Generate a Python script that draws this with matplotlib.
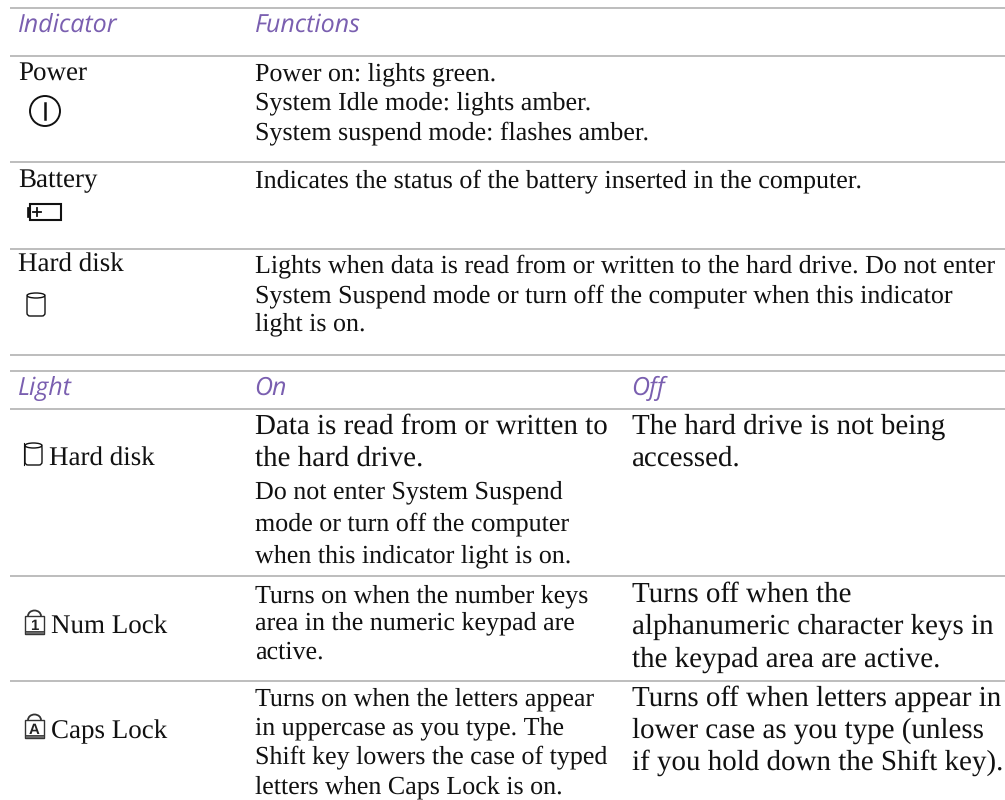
#!/usr/bin/env python3
"""Indicator light tables, laid out in pixel coordinates."""

import matplotlib
matplotlib.use("Agg")
import matplotlib.pyplot as plt
from matplotlib.patches import Arc, Circle, Rectangle, FancyBboxPatch, Ellipse

plt.rcParams["text.hinting"] = "no_hinting"
plt.rcParams["text.hinting_factor"] = 1

HEAD_COLOR = "#7a5fb0"
RULE_COLOR = "#b2b2b2"
SERIF = "Liberation Serif"
HEAD_FONT = "Open Sans"

HEADERS_TOP = ["Indicator", "Functions"]
HEADERS_BOTTOM = ["Light", "On", "Off"]

INDICATORS = ["Power", "Battery", "Hard disk"]
FUNCTIONS = [
    "Power on: lights green.",
    "System Idle mode: lights amber.",
    "System suspend mode: flashes amber.",
    "Indicates the status of the battery inserted in the computer.",
    "Lights when data is read from or written to the hard drive. Do not enter",
    "System Suspend mode or turn off the computer when this indicator",
    "light is on.",
]
LIGHTS = ["Hard disk", "Num Lock", "Caps Lock"]
ON_BIG = ["Data is read from or written to", "the hard drive."]
ON_SMALL = [
    "Do not enter System Suspend",
    "mode or turn off the computer",
    "when this indicator light is on.",
    "Turns on when the number keys",
    "area in the numeric keypad are",
    "active.",
    "Turns on when the letters appear",
    "in uppercase as you type. The",
    "Shift key lowers the case of typed",
    "letters when Caps Lock is on.",
]
OFF = [
    "The hard drive is not being",
    "accessed.",
    "Turns off when the",
    "alphanumeric character keys in",
    "the keypad area are active.",
    "Turns off when letters appear in",
    "lower case as you type (unless",
    "if you hold down the Shift key).",
]
LOCK_GLYPHS = ["1", "A"]

RULES_Y = [7.7, 55.7, 161.7, 248.7, 355, 371, 408.7, 576, 680.7]
INDICATORS_Y = [80, 187, 272]
FUNCTIONS_Y = [80, 109, 139, 187, 272, 302, 330]
LIGHTS_X = [49, 51, 51]
LIGHTS_Y = [466, 634, 738]
ON_BIG_Y = [434, 466]
ON_SMALL_Y = [498, 530, 562, 602, 629, 659, 705, 734, 763, 793]
OFF_Y = [434, 466, 602, 634, 667, 706, 738, 770]

TEXT_SIZE = 19.05
BIG_SIZE = 20.8

fig = plt.figure(figsize=(10.05, 8.0), dpi=100)
ax = fig.add_axes([0, 0, 1, 1])
ax.set_xlim(0, 1005)
ax.set_ylim(800, 0)
ax.axis("off")


def put(x, y, s, size=TEXT_SIZE, **kw):
    kw.setdefault("family", SERIF)
    kw.setdefault("color", "#111111")
    ax.text(x, y, s, fontsize=size, va="baseline", ha="left", **kw)


def head(x, y, s):
    put(x, y, s, size=18, family=HEAD_FONT, style="italic", color=HEAD_COLOR)


def cylinder(x0, y0, w, h):
    ax.add_patch(FancyBboxPatch((x0, y0 + 2), w, h - 2, boxstyle="round,pad=0,rounding_size=3",
                                fc="white", ec="#111111", lw=1.0))
    ax.add_patch(Ellipse((x0 + w / 2, y0 + 2.5), w, 5, fc="white", ec="#111111", lw=1.0))


def lock(x0, y0, glyph):
    ax.add_patch(Arc((x0 + 9.5, y0 + 6), 13, 11, theta1=180, theta2=360, ec="#333333", lw=1.3))
    ax.add_patch(Rectangle((x0, y0 + 6), 19, 18, fc="white", ec="#333333", lw=1.0))
    ax.add_patch(Rectangle((x0, y0 + 21), 19, 3, fc="#666666", ec="#333333", lw=0.6))
    ax.text(x0 + 9.5, y0 + 20.5, glyph, fontsize=10.5, fontweight="bold", family="Liberation Sans",
            ha="center", va="baseline", color="#222222")


for y in RULES_Y:
    ax.plot([10, 1005], [y, y], color=RULE_COLOR, lw=1.2, solid_capstyle="butt")

for x, s in zip([18, 255], HEADERS_TOP):
    head(x, 32, s)
for x, s in zip([18, 254, 631], HEADERS_BOTTOM):
    head(x, 395, s)

for y, s in zip(INDICATORS_Y, INDICATORS):
    put(18, y, s, size=19.2)
for y, s in zip(FUNCTIONS_Y, FUNCTIONS):
    put(255, y, s)

for x, y, s in zip(LIGHTS_X, LIGHTS_Y, LIGHTS):
    put(x, y, s, size=19.2)
for y, s in zip(ON_BIG_Y, ON_BIG):
    put(255, y, s, size=BIG_SIZE)
for y, s in zip(ON_SMALL_Y, ON_SMALL):
    put(255, y, s, size=18.8)
for y, s in zip(OFF_Y, OFF):
    put(632, y, s, size=BIG_SIZE)

# power icon
ax.add_patch(Circle((45, 111), 15, fc="none", ec="#111111", lw=1.4))
ax.plot([45, 45], [103, 119], color="#111111", lw=1.8)

# battery icon
ax.add_patch(Rectangle((30, 204), 30.5, 16, fc="white", ec="#111111", lw=1.5))
ax.add_patch(Rectangle((27, 207), 3, 10, fc="#111111", ec="#111111", lw=0.5))
ax.plot([37, 37], [208, 216], color="#111111", lw=1.3)
ax.plot([33, 41], [212, 212], color="#111111", lw=1.3)

cylinder(27, 293, 18, 23)
cylinder(25, 443, 17, 22)
ax.plot([24, 24], [443, 465], color="#111111", lw=0.8)

for y0, g in zip([610, 714], LOCK_GLYPHS):
    lock(25, y0, g)

fig.savefig("out.png", dpi=100)
